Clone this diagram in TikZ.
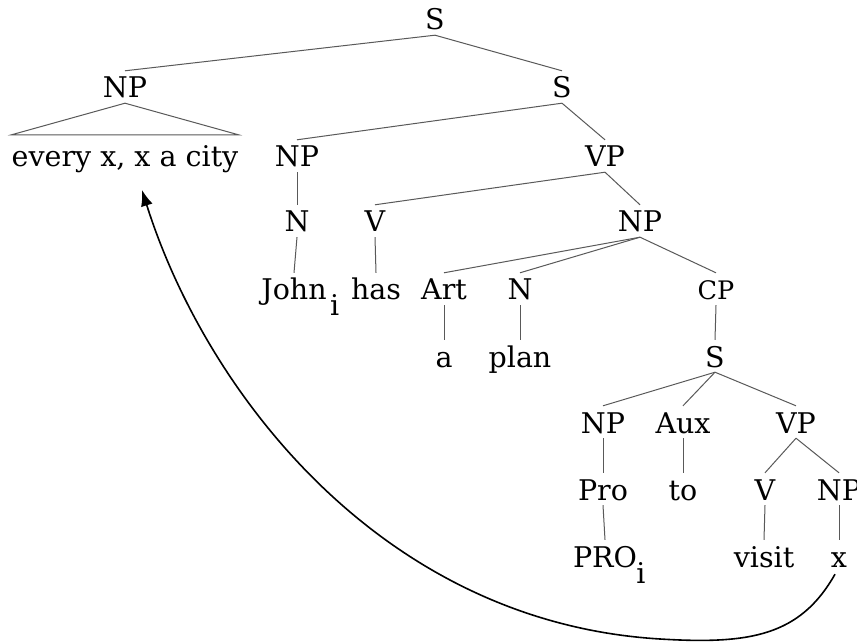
\documentclass[tikz,border=0pt]{standalone}
\usepackage{fontspec}
\setmainfont{DejaVu Serif}
\usetikzlibrary{arrows.meta}
\newcommand\tfont{\fontsize{28.5}{32}\selectfont}
\newcommand\sfont{\fontsize{25.5}{30}\selectfont}
\begin{document}
\begin{tikzpicture}[x=1pt,y=-1pt,
  tn/.style={font=\tfont, inner sep=0pt, text height=27pt, text depth=5pt, anchor=base},
  sub/.style={font=\tfont, inner sep=0pt, anchor=base west},
  br/.style={draw=black!65, line width=1pt},
  mv/.style={draw=black, line width=1.6pt, -{Latex[length=16pt,width=12pt]}}]
\clip (0,0) rectangle (857,644);
\fill[white] (0,0) rectangle (857,644);
% nodes
\node[tn] (S0) at (435,30) {S};
\node[tn] (NP1) at (125,98) {NP};
\node[tn] (S1) at (562,98) {S};
\node[tn, text height=32pt] (city) at (125,167) {every x, x a city};
\node[tn] (NP2) at (297,167) {NP};
\node[tn] (VP1) at (605,167) {VP};
\node[tn] (N1) at (297,232) {N};
\node[tn] (V1) at (375,232) {V};
\node[tn] (NP3) at (640,232) {NP};
\node[tn] (John) at (294,300) {John};
\node[sub] (Johni) at ([xshift=3pt,yshift=-16pt]John.base east) {i};
\node[tn] (has) at (376,300) {has};
\node[tn] (Art) at (444,300) {Art};
\node[tn] (N2) at (520,300) {N};
\node[tn, font=\sfont] (CP) at (716,300) {CP};
\node[tn] (a) at (444,367) {a};
\node[tn] (plan) at (520,367) {plan};
\node[tn] (S2) at (715,367) {S};
\node[tn] (NP4) at (603,433) {NP};
\node[tn] (Aux) at (683,433) {Aux};
\node[tn] (VP2) at (796,433) {VP};
\node[tn] (Pro) at (603,500) {Pro};
\node[tn] (to) at (683,500) {to};
\node[tn] (V2) at (765,500) {V};
\node[tn] (NP5) at (839,500) {NP};
\node[tn] (PRO) at (605,567) {PRO};
\node[sub] (PROi) at ([xshift=-1pt,yshift=-16pt]PRO.base east) {i};
\node[tn] (visit) at (764,567) {visit};
\node[tn] (xw) at (839,567) {x};
% branches
\draw[br] (S0.south) -- (NP1.north);
\draw[br] (S0.south) -- (S1.north);
\draw[br] (city.north west) -- (NP1.south) -- (city.north east) -- cycle;
\draw[br] (S1.south) -- (NP2.north);
\draw[br] (S1.south) -- (VP1.north);
\draw[br] (NP2.south) -- (N1.north);
\draw[br] (N1.south) -- (John.north);
\draw[br] (VP1.south) -- (V1.north);
\draw[br] (VP1.south) -- (NP3.north);
\draw[br] (V1.south) -- (has.north);
\draw[br] (NP3.south) -- (Art.north);
\draw[br] (NP3.south) -- (N2.north);
\draw[br] (NP3.south) -- (CP.north);
\draw[br] (Art.south) -- (a.north);
\draw[br] (N2.south) -- (plan.north);
\draw[br] (CP.south) -- (S2.north);
\draw[br] (S2.south) -- (NP4.north);
\draw[br] (S2.south) -- (Aux.north);
\draw[br] (S2.south) -- (VP2.north);
\draw[br] (NP4.south) -- (Pro.north);
\draw[br] (Pro.south) -- (PRO.north);
\draw[br] (Aux.south) -- (to.north);
\draw[br] (VP2.south) -- (V2.north);
\draw[br] (VP2.south) -- (NP5.north);
\draw[br] (V2.south) -- (visit.north);
\draw[br] (NP5.south) -- (xw.north);
% movement arrow
\coordinate (mstart) at ([xshift=-4pt,yshift=-2pt]xw.south);
\coordinate (mbottom) at (660,639);
\coordinate (mend) at (142,190);
\draw[mv] (mstart) .. controls (800,636) and (750,644.5) .. (mbottom)
  .. controls (380,622) and (205,390) .. (mend);
\end{tikzpicture}
\end{document}
